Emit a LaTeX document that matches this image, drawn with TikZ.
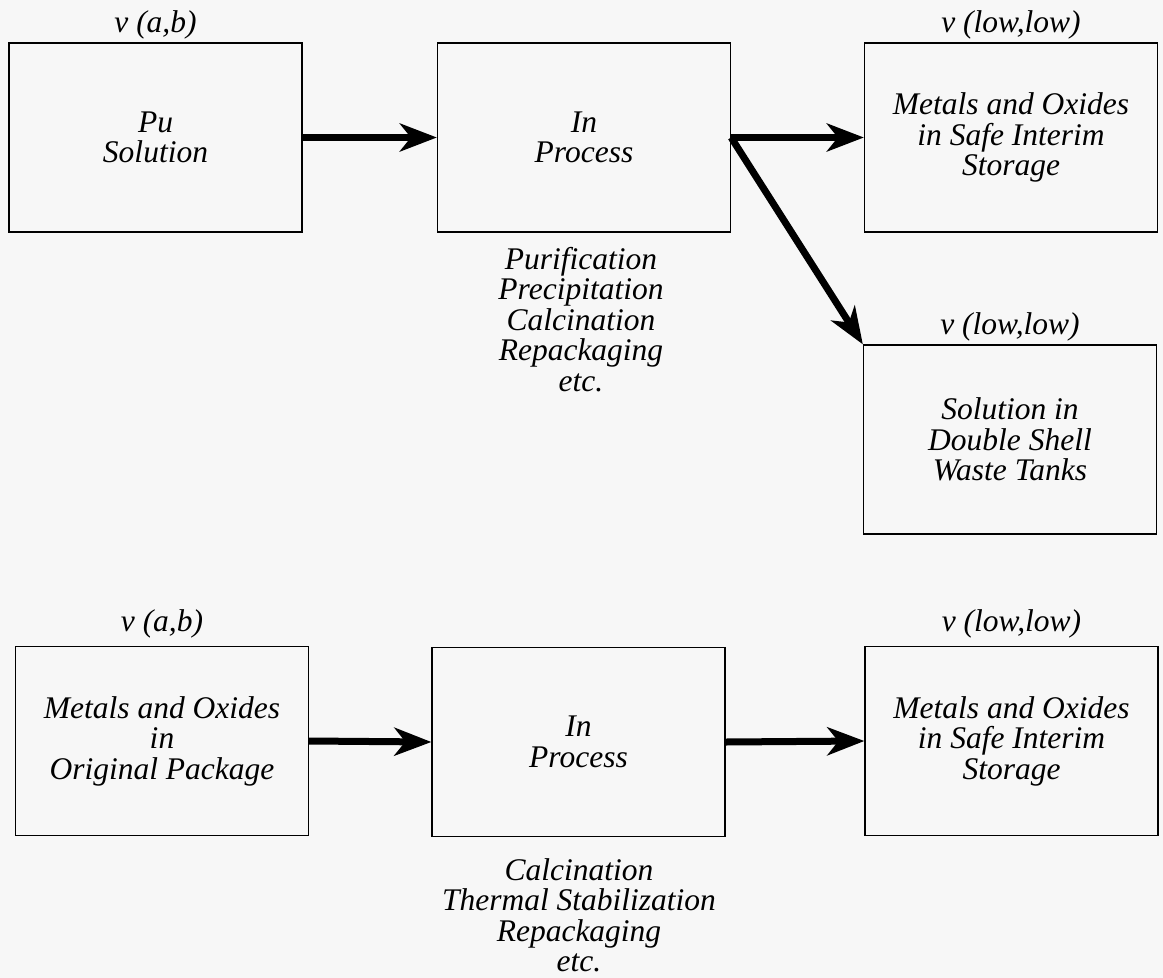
\documentclass[tikz,border=0pt]{standalone}
\usepackage{fontspec}
\setmainfont{Liberation Serif}
\usetikzlibrary{arrows.meta}
\definecolor{paper}{RGB}{247,247,247}
\tikzset{
  box/.style={draw, line width=1.3pt, minimum width=293pt, minimum height=189pt, inner sep=0pt, align=center,
    font=\itshape\fontsize{31.5}{30.5}\selectfont},
  lbl/.style={inner sep=0pt, anchor=base, font=\itshape\fontsize{31.5}{30.5}\selectfont},
  notes/.style={inner sep=0pt, anchor=north, align=center, font=\itshape\fontsize{31.5}{30.5}\selectfont},
  flow/.style={line width=7pt, -{Stealth[length=37pt,width=28pt,inset=11pt]}}
}
\begin{document}
\begin{tikzpicture}[x=1pt,y=-1pt]
\fill[paper] (0,0) rectangle (1163,978);
\useasboundingbox (0,0) rectangle (1163,978);
% top row
\node[box] (b1) at (155.5,137.5) {Pu\\Solution};
\node[box] (b2) at (584,137.5) {In\\Process};
\node[box] (b3) at (1011,137.5) {Metals and Oxides\\in Safe Interim\\Storage};
\node[box] (b4) at (1010,439.5) {Solution in\\Double Shell\\Waste Tanks};
% bottom row
\node[box] (b5) at (162,741) {Metals and Oxides\\in\\Original Package};
\node[box] (b6) at (578.5,742) {In\\Process};
\node[box] (b7) at (1011.5,741) {Metals and Oxides\\in Safe Interim\\Storage};
% labels
\node[lbl] (l1) at ([yshift=10pt]b1.north) {v (a,b)};
\node[lbl] (l3) at ([yshift=10pt]b3.north) {v (low,low)};
\node[lbl] (l4) at ([yshift=10pt]b4.north) {v (low,low)};
\node[lbl] (l5) at ([yshift=14pt]b5.north) {v (a,b)};
\node[lbl] (l7) at ([yshift=14pt]b7.north) {v (low,low)};
% notes
\node[notes] (n2) at (581,247) {Purification\\Precipitation\\Calcination\\Repackaging\\etc.};
\node[notes] (n6) at (579,858) {Calcination\\Thermal Stabilization\\Repackaging\\etc.};
% arrows
\draw[flow] (b1.east) -- (b2.west);
\draw[flow] (b2.east) -- (b3.west);
\draw[flow] (b2.east) -- (b4.north west);
\draw[flow] (b5.east) -- (b6.west);
\draw[flow] (b6.east) -- (b7.west);
\end{tikzpicture}
\end{document}
